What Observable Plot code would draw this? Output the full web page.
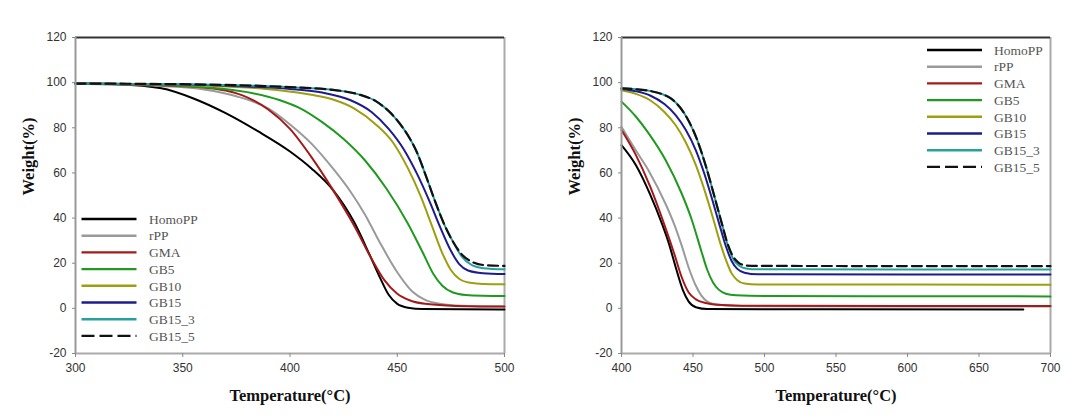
<!DOCTYPE html>
<html><head><meta charset="utf-8">
<script src="https://cdn.jsdelivr.net/npm/d3@7"></script>
<script src="https://cdn.jsdelivr.net/npm/@observablehq/plot@0.6"></script>
<style>
body{margin:0;background:#fff;}
#wrap{position:relative;width:1076px;height:419px;overflow:hidden;background:#fff;}
.panel{position:absolute;top:0;}
.legend{position:absolute;top:0;left:0;}
</style></head><body><div id="wrap"></div>
<script>
// ---- series names, colours ----
const seriesNames = ["HomoPP","rPP","GMA","GB5","GB10","GB15","GB15_3","GB15_5"];
const seriesColors = ["#000000","#9a9a9a","#a31a1a","#1f9a1f","#9e9e10","#1c1c8e","#27a0a0","#111111"];
const yTicks = [-20,0,20,40,60,80,100,120];
const leftXTicks = [300,350,400,450,500];
const rightXTicks = [400,450,500,550,600,650,700];

// ---- left panel: [temperature, weight%] ----
const leftHomoPP = [[300,99.5],[320,99.2],[340,97.5],[355,93],[370,86.5],[385,78.5],[400,69.5],[410,62],[420,52.5],[430,38],[437,24],[442,13.5],[446,6],[450,2],[455,0.3],[462,-0.3],[500,-0.5]];
const leftRPP = [[300,99.6],[340,98.5],[360,97],[375,94],[390,88.5],[400,81.5],[410,73],[420,62],[428,52],[435,41.5],[442,29],[450,16],[457,7.5],[463,3.8],[470,2],[480,1.1],[500,0.8]];
const leftGMA = [[300,99.6],[340,98.8],[360,97.8],[370,96.5],[380,93.5],[390,88],[400,79.5],[410,67],[420,52.5],[430,36.5],[438,22],[444,12.5],[450,6.5],[456,3.5],[463,2],[475,1.2],[500,0.8]];
const leftGB5 = [[300,99.6],[340,99],[360,98],[380,95.8],[395,92.3],[405,88.5],[415,82.5],[425,75],[435,65.5],[445,53],[455,37.5],[462,24.5],[467,15],[471,10],[476,7],[482,5.9],[490,5.6],[500,5.5]];
const leftGB10 = [[300,99.6],[350,99],[380,97.8],[395,96.6],[410,94.6],[420,92.5],[430,88.5],[440,81.5],[448,73.5],[455,62],[461,49.5],[466,37],[471,24.5],[475,17],[479,13],[484,11.3],[490,10.8],[500,10.7]];
const leftGB15 = [[300,99.6],[350,99.2],[380,98.3],[400,97.2],[415,95.6],[428,92.3],[438,87],[446,79.5],[453,70.5],[459,60],[465,47.5],[470,36],[475,25.5],[479,19.5],[483,16.8],[490,15.6],[500,15.2]];
const leftGB15_3 = [[300,99.6],[350,99.3],[400,98],[420,96.8],[432,94.8],[440,91.8],[447,86.5],[453,79.5],[459,69.5],[464,57],[468,46.5],[472,37],[476,29.5],[480,23],[485,19],[490,17.8],[500,17.3]];
const leftGB15_5 = [[300,99.6],[350,99.3],[400,98],[420,96.8],[432,94.8],[440,91.8],[447,86.5],[453,79.5],[459,69.5],[464,57],[468,46.5],[472,37],[476,29.5],[480,24],[485,20.5],[490,19.2],[500,18.8]];

// ---- right panel: [temperature, weight%] ----
const rightHomoPP = [[400,72.3],[410,63.5],[420,50.5],[428,38],[433,29],[438,18],[443,8],[447,3],[452,0.5],[460,-0.3],[681,-0.5]];
const rightRPP = [[400,80.4],[410,70],[419,61],[431,46],[437,37],[442,28],[447,18],[452,10],[456,5.5],[460,3],[466,1.8],[480,1],[700,0.8]];
const rightGMA = [[400,79],[410,68],[420,54],[430,37],[437,24],[442,14],[447,7],[452,4],[458,2.5],[470,1.5],[500,1.1],[700,1]];
const rightGB5 = [[400,91.6],[410,85],[419,77.5],[431,65.5],[442,51],[449,39.5],[456,25],[460,17],[464,11.5],[468,8.3],[473,6.5],[480,5.8],[500,5.5],[700,5.3]];
const rightGB10 = [[400,96.6],[410,95],[420,92.2],[430,87],[438,81],[445,73.5],[452,63.5],[458,52.5],[464,40],[469,29],[473,21.5],[477,15.5],[481,12.5],[486,11],[495,10.6],[700,10.5]];
const rightGB15 = [[400,97.2],[410,96.2],[420,94.3],[430,90.5],[438,85.5],[445,79],[452,70],[458,59.5],[464,47],[469,36],[473,27.5],[477,21],[481,17.5],[486,15.8],[495,15.1],[700,15]];
const rightGB15_3 = [[400,97.5],[410,97.1],[420,96.3],[428,95],[435,92.8],[441,89],[447,83],[453,74.5],[459,63],[465,49.5],[470,38],[474,28.5],[478,22],[482,19],[487,17.7],[495,17.3],[700,17.2]];
const rightGB15_5 = [[400,97.5],[410,97.1],[420,96.3],[428,95],[435,92.8],[441,89],[447,83],[453,74.5],[459,63],[465,49.5],[470,38],[474,29],[478,23],[482,20.2],[487,19],[495,18.8],[700,18.7]];

const leftSeries = [leftHomoPP,leftRPP,leftGMA,leftGB5,leftGB10,leftGB15,leftGB15_3,leftGB15_5];
const rightSeries = [rightHomoPP,rightRPP,rightGMA,rightGB5,rightGB10,rightGB15,rightGB15_3,rightGB15_5];

function rowsOf(list){
  const rows=[];
  list.forEach((pts,i)=>pts.forEach(([T,W])=>rows.push({series:seriesNames[i],T,W})));
  return rows;
}

const serif = "'Liberation Serif','Times New Roman',serif";

function panel({list, xdom, xticks, ml, mr}){
  const rows = rowsOf(list);
  const solid = rows.filter(d=>d.series!=="GB15_5");
  const dashed = rows.filter(d=>d.series==="GB15_5");
  return Plot.plot({
    width:538, height:419,
    marginLeft:ml, marginRight:mr, marginTop:37, marginBottom:66,
    x:{domain:xdom, ticks:xticks},
    y:{domain:[-20,120], ticks:yTicks},
    color:{domain:seriesNames, range:seriesColors},
    style:{fontFamily:"'Liberation Sans',Arial,sans-serif", fontSize:"12px", background:"#fff", color:"#333"},
    marks:[
      Plot.ruleX([xdom[1]], {stroke:"#aaa", strokeWidth:2}),
      Plot.line(solid, {x:"T", y:"W", z:"series", stroke:"series", strokeWidth:2, curve:"monotone-x"}),
      Plot.line(dashed, {x:"T", y:"W", z:"series", stroke:"series", strokeWidth:2.2, strokeDasharray:"10,5", curve:"monotone-x"}),
      Plot.ruleY([120], {stroke:"#333", strokeWidth:2.2}),
      Plot.ruleY([-20], {stroke:"#aaa", strokeWidth:2}),
      Plot.ruleX([xdom[0]], {stroke:"#999", strokeWidth:2}),
      Plot.axisX({ticks:xticks, tickSize:4, tickPadding:6, stroke:"#888", fill:"#333", label:null, tickFormat:d=>String(d)}),
      Plot.axisY({ticks:yTicks, tickSize:3, tickPadding:6, stroke:"#888", fill:"#333", label:null, tickFormat:d=>String(d)}),
      Plot.text(["Temperature(°C)"], {frameAnchor:"bottom", dy:47, fontFamily:serif, fontWeight:"bold", fontSize:16.5, fill:"#111"}),
      Plot.text(["Weight(%)"], {frameAnchor:"left", dx:-47, rotate:-90, fontFamily:serif, fontWeight:"bold", fontSize:16.5, fill:"#111"})
    ]
  });
}

const wrap = document.getElementById("wrap");
const p1 = panel({list:leftSeries, xdom:[300,500], xticks:leftXTicks, ml:75, mr:34});
p1.classList.add("panel"); p1.style.left="0px";
const p2 = panel({list:rightSeries, xdom:[400,700], xticks:rightXTicks, ml:83, mr:26});
p2.classList.add("panel"); p2.style.left="538px";
wrap.appendChild(p1); wrap.appendChild(p2);

// legends
const svg = d3.select(wrap).append("svg").attr("class","legend").attr("width",1076).attr("height",419)
  .style("position","absolute").style("left","0").style("top","0");
function legend(x0, x1, xt, y0){
  seriesNames.forEach((name,i)=>{
    const y = y0 + i*16.7;
    svg.append("line").attr("x1",x0).attr("x2",x1).attr("y1",y).attr("y2",y)
      .attr("stroke",seriesColors[i]).attr("stroke-width",2.4)
      .attr("stroke-dasharray", name==="GB15_5" ? "13,5" : null);
    svg.append("text").attr("x",xt).attr("y",y).attr("dy","0.35em")
      .attr("font-family",serif).attr("font-size",13.5).attr("fill","#555").text(name);
  });
}
legend(81.5, 136.5, 149, 219);
legend(927, 982, 994, 50);
</script></body></html>
